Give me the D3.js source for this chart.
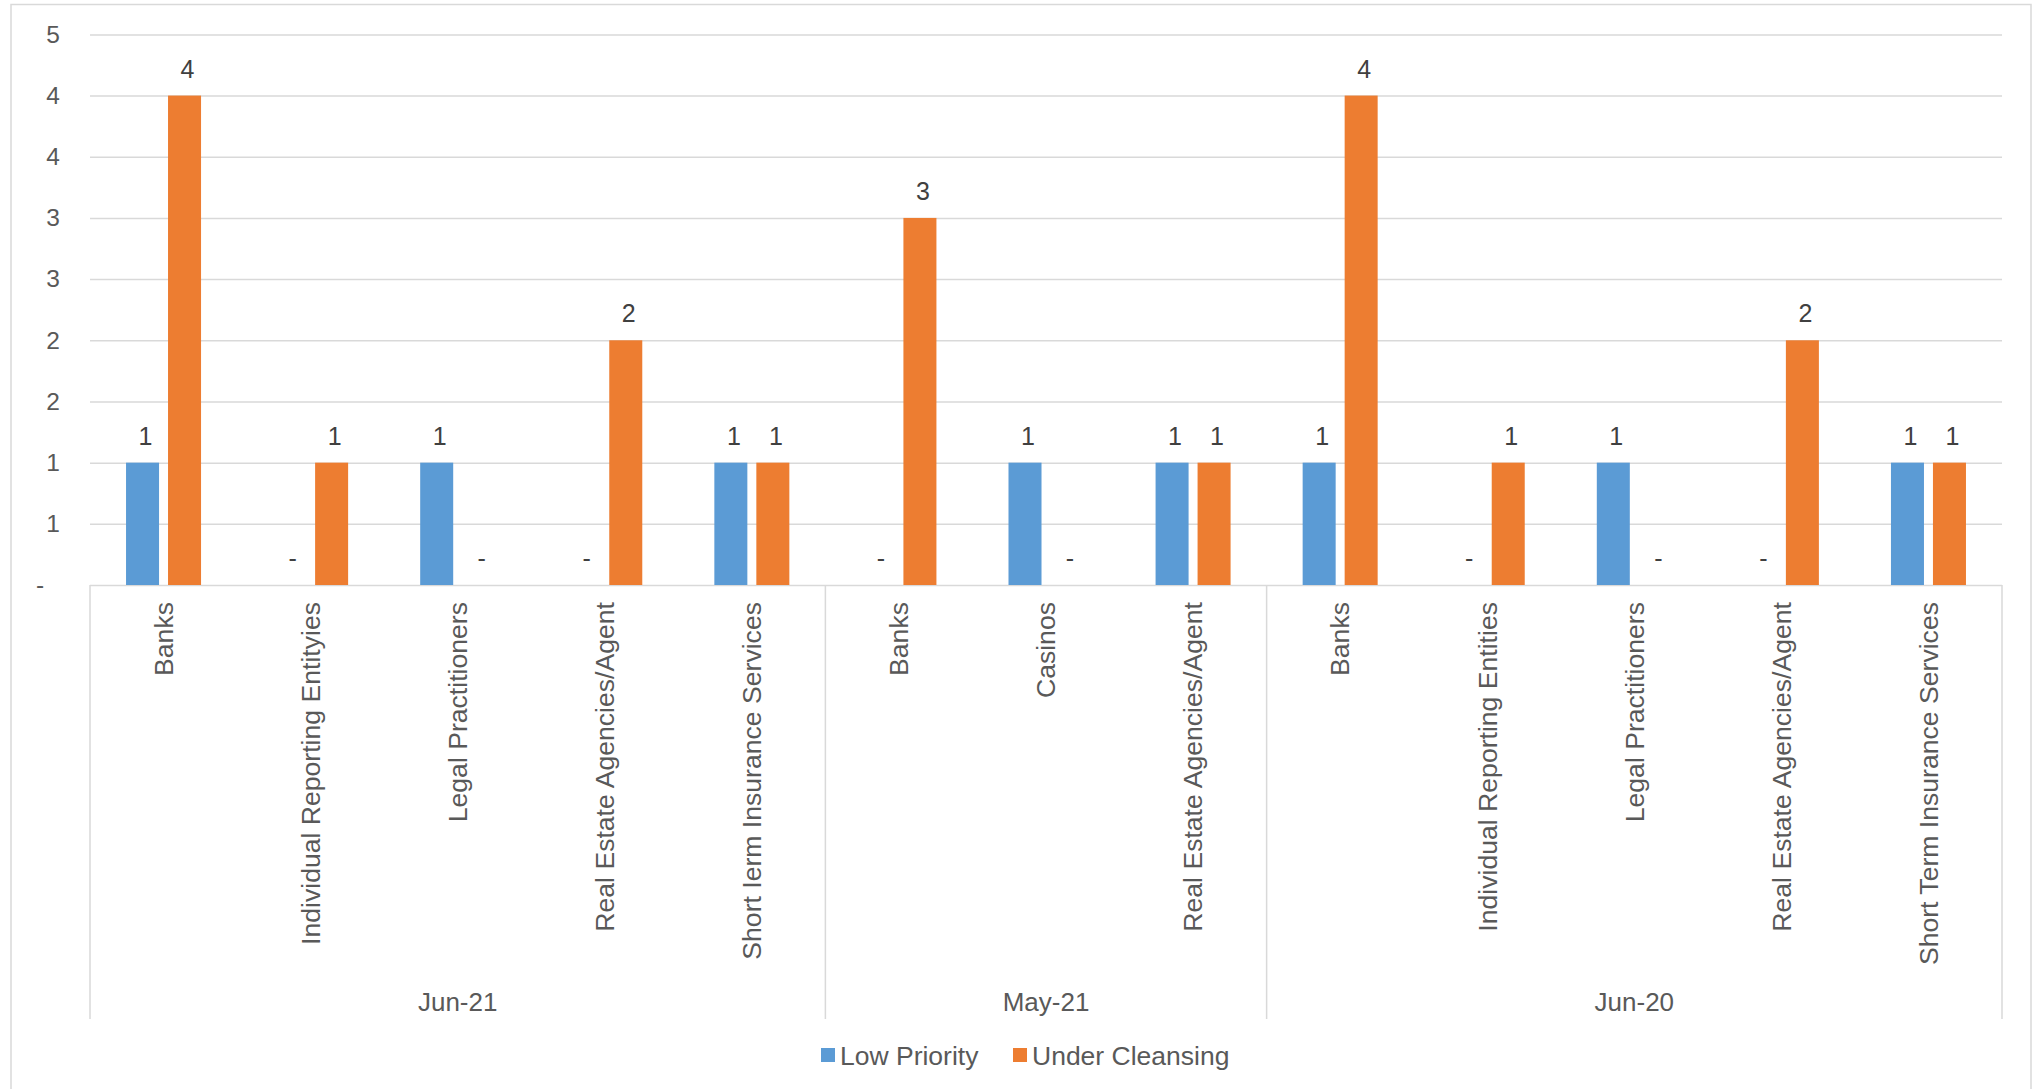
<!DOCTYPE html>
<html>
<head>
<meta charset="utf-8">
<script src="https://cdn.jsdelivr.net/npm/d3@7"></script>
<style>
  html, body { margin: 0; padding: 0; background: #ffffff; }
  svg { display: block; font-family: "Liberation Sans", Arial, sans-serif; }
</style>
</head>
<body>
<svg id="chart" width="2038" height="1089"></svg>
<script>
// Reporting periods and how many sectors each one covers
const periods = ["Jun-21", "May-21", "Jun-20"];
const sectorsPerPeriod = [5, 3, 5];

// Sector names, in drawing order across all periods
const sectors = [
  "Banks", "Individual Reporting Entityies", "Legal Practitioners",
  "Real Estate Agencies/Agent", "Short Ierm Insurance Services",
  "Banks", "Casinos", "Real Estate Agencies/Agent",
  "Banks", "Individual Reporting Entities", "Legal Practitioners",
  "Real Estate Agencies/Agent", "Short Term Insurance Services"
];

// Series values
const seriesNames = ["Low Priority", "Under Cleansing"];
const lowPriority    = [1, 0, 1, 0, 1, 0, 1, 1, 1, 0, 1, 0, 1];
const underCleansing = [4, 1, 0, 2, 1, 3, 0, 1, 4, 1, 0, 2, 1];

// Value axis ticks
const yTicks = [0, 0.5, 1, 1.5, 2, 2.5, 3, 3.5, 4, 4.5];

const colors = ["#5B9BD5", "#ED7D31"];
const gridColor = "#D9D9D9";
const textColor = "#595959";

const svg = d3.select("#chart");

const plot = { left: 90, right: 2002, top: 34.4, bottom: 585 };

// Outer chart frame
svg.append("rect")
  .attr("x", 11).attr("y", 4.5)
  .attr("width", 2020).attr("height", 1100)
  .attr("fill", "none").attr("stroke", gridColor).attr("stroke-width", 1.5);

const x = d3.scaleBand()
  .domain(d3.range(sectors.length))
  .range([plot.left, plot.right])
  .padding(0);

const xSub = d3.scaleBand()
  .domain(seriesNames)
  .range([0, x.bandwidth()])
  .paddingInner(0.214)
  .paddingOuter(0.858);

const y = d3.scaleLinear()
  .domain([0, 4.5])
  .range([plot.bottom, plot.top]);

// Gridlines and value-axis labels
const yAxis = svg.append("g")
  .attr("transform", `translate(${plot.left},0)`)
  .call(d3.axisLeft(y)
    .tickValues(yTicks)
    .tickSize(-(plot.right - plot.left))
    .tickPadding(30)
    .tickFormat(d => d === 0 ? "-" : String(Math.round(d))));
yAxis.select(".domain").remove();
yAxis.selectAll(".tick line")
  .attr("stroke", gridColor).attr("stroke-width", 1.5);
yAxis.selectAll(".tick text")
  .attr("fill", textColor)
  .style("font-size", "24.5px");
yAxis.selectAll(".tick text")
  .filter(d => d === 0)
  .attr("x", -50)
  .attr("text-anchor", "middle");

// Bars
const rows = sectors.map((s, i) => ({ i, values: [lowPriority[i], underCleansing[i]] }));

const groups = svg.append("g").selectAll("g")
  .data(rows)
  .join("g")
  .attr("transform", d => `translate(${x(d.i)},0)`);

groups.selectAll("rect")
  .data(d => d.values.map((v, k) => ({ v, k })))
  .join("rect")
  .attr("x", d => xSub(seriesNames[d.k]))
  .attr("width", xSub.bandwidth())
  .attr("y", d => y(d.v))
  .attr("height", d => y(0) - y(d.v))
  .attr("fill", d => colors[d.k]);

// Value labels
groups.selectAll("text")
  .data(d => d.values.map((v, k) => ({ v, k })))
  .join("text")
  .attr("x", d => xSub(seriesNames[d.k]) + xSub.bandwidth() / 2 + 3)
  .attr("y", d => y(d.v) - 18)
  .attr("text-anchor", "middle")
  .attr("fill", "#404040")
  .style("font-size", "25px")
  .text(d => d.v === 0 ? "-" : d.v);

// Category axis with rotated sector names
const xAxis = svg.append("g")
  .attr("transform", `translate(0,${plot.bottom})`)
  .call(d3.axisBottom(x).tickSize(0).tickFormat(i => sectors[i]));
xAxis.select(".domain").remove();
xAxis.selectAll(".tick text")
  .attr("transform", "rotate(-90)")
  .attr("x", -17)
  .attr("y", 0)
  .attr("dy", "0.35em")
  .attr("text-anchor", "end")
  .attr("fill", textColor)
  .style("font-size", "26.6px");

// Period separators and period labels
const bounds = [0];
sectorsPerPeriod.forEach(n => bounds.push(bounds[bounds.length - 1] + n));
const edgeX = k => k < sectors.length ? x(k) : plot.right;

svg.append("g").selectAll("line")
  .data(bounds)
  .join("line")
  .attr("x1", k => edgeX(k)).attr("x2", k => edgeX(k))
  .attr("y1", plot.bottom).attr("y2", 1019)
  .attr("stroke", gridColor).attr("stroke-width", 1.5);

svg.append("g").selectAll("text")
  .data(periods)
  .join("text")
  .attr("x", (p, j) => (edgeX(bounds[j]) + edgeX(bounds[j + 1])) / 2)
  .attr("y", 1011)
  .attr("text-anchor", "middle")
  .attr("fill", textColor)
  .style("font-size", "26px")
  .text(p => p);

// Legend
const legendX = [821, 1013];
const legend = svg.append("g").selectAll("g")
  .data(seriesNames)
  .join("g")
  .attr("transform", (d, k) => `translate(${legendX[k]},1048)`);
legend.append("rect")
  .attr("width", 14).attr("height", 14)
  .attr("fill", (d, k) => colors[k]);
legend.append("text")
  .attr("x", 19).attr("y", 17)
  .attr("fill", textColor)
  .style("font-size", "26.5px")
  .text(d => d);
</script>
</body>
</html>
